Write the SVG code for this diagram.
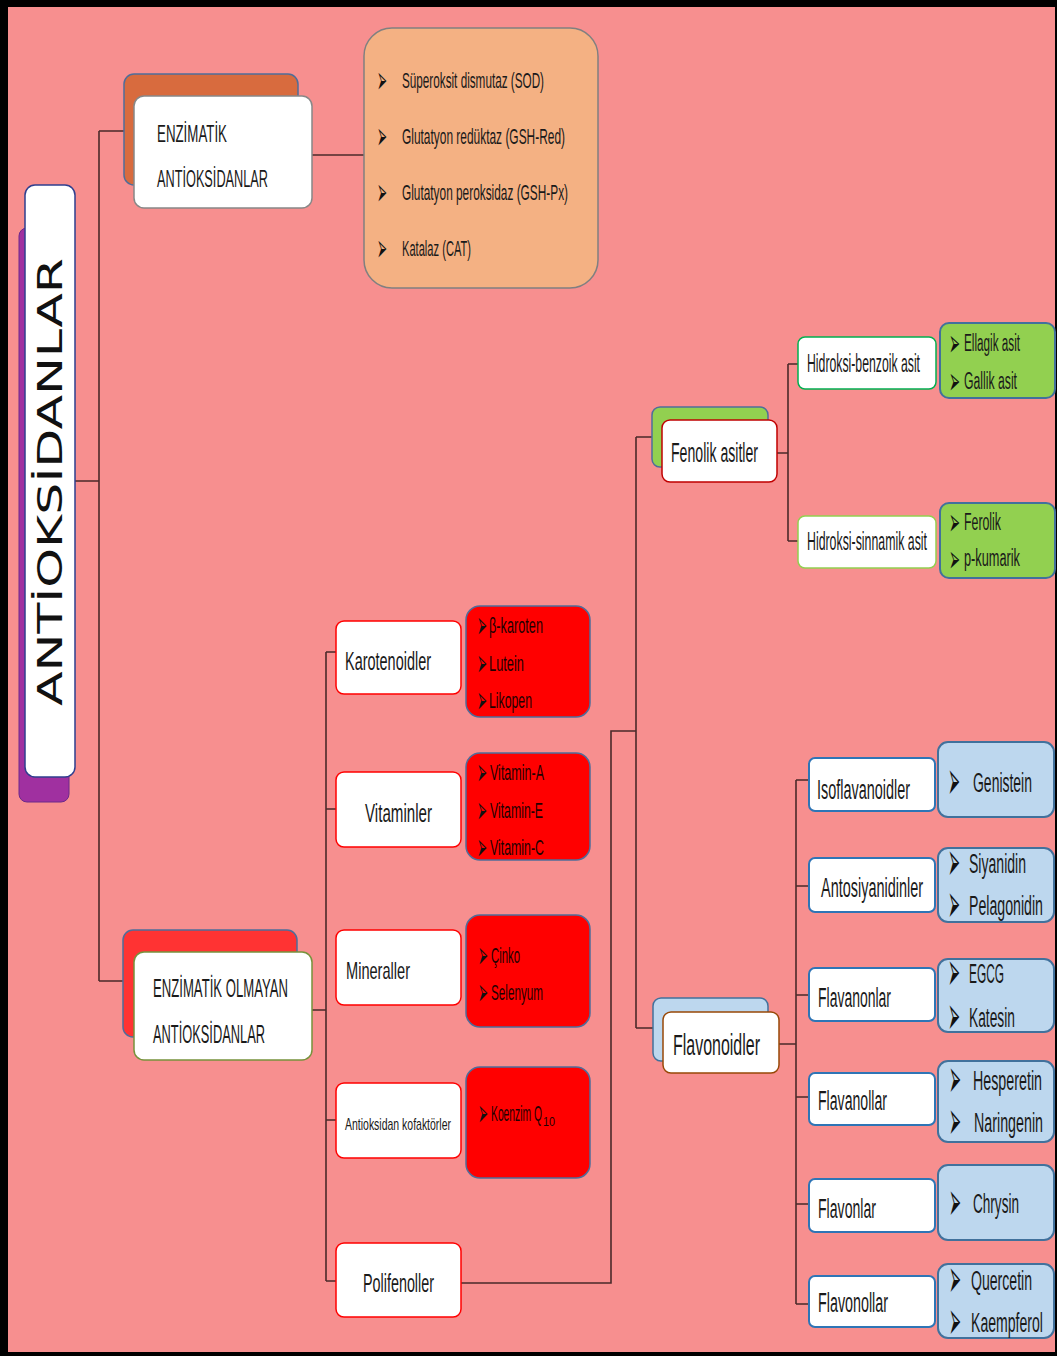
<svg xmlns="http://www.w3.org/2000/svg" width="1057" height="1356" viewBox="0 0 1057 1356">
<style>
.t{font-family:"Liberation Sans",Arial,sans-serif;fill:#1a1a1a}
.r{font-family:"Liberation Sans",Arial,sans-serif;fill:#1f0000}
.b{font-family:"DejaVu Sans",sans-serif;fill:#111}
.bs{font-family:"DejaVu Sans",sans-serif;fill:#111;font-size:38px}
.bl{font-family:"DejaVu Sans",sans-serif;fill:#111;font-size:54px}
.con{fill:none;stroke:#4a2a2a;stroke-width:1.6}
.redbox{fill:#FF0000;stroke:#4F6D9A;stroke-width:1.5}
.leftbox{fill:#fff;stroke:#FF0000;stroke-width:1.5}
.fbox{fill:#fff;stroke:#2E75B6;stroke-width:2}
.bluebox{fill:#BDD7EE;stroke:#41719C;stroke-width:2}
.greenbox{fill:#92D050;stroke:#41719C;stroke-width:2}
</style>
<rect x="0" y="0" width="1057" height="1356" fill="#000"/>
<rect x="8" y="7" width="1047" height="1345" fill="#F78F8F"/>

<g id="connectors">
<path class="con" d="M75 481H99M99 131V981M99 131H124M99 981H123"/>
<path class="con" d="M312 155H364"/>
<path class="con" d="M312 1010H326M326 652V1281M326 652H336M326 809H336M326 1120H336M326 1281H336"/>
<path class="con" d="M461 1283H611V731H636M636 437V1028M636 437H652M636 1028H653"/>
<path class="con" d="M777 453H788M788 364V541M788 364H798M788 541H798"/>
<path class="con" d="M779 1044H796M796 780V1304M796 780H809M796 886H809M796 995H809M796 1097H809M796 1204H809M796 1304H809"/>
</g>

<g id="antioksidanlar">
<rect x="19" y="228" width="50" height="574" rx="8" fill="#A030A0" stroke="#6a2a8a"/>
<rect x="25" y="185" width="50" height="592" rx="10" fill="#fff" stroke="#2F3F8F" stroke-width="1.5"/>
<text class="b" font-size="33" transform="translate(62,706) rotate(-90)" textLength="448" lengthAdjust="spacingAndGlyphs">ANTİOKSİDANLAR</text>
</g>

<g id="enzimatik">
<rect x="124" y="74" width="174" height="111" rx="10" fill="#D86B3E" stroke="#4F6D9A" stroke-width="1.5"/>
<rect x="134" y="96" width="178" height="112" rx="10" fill="#fff" stroke="#888" stroke-width="1.5"/>
<text class="t" x="157" y="142" font-size="24" textLength="70" lengthAdjust="spacingAndGlyphs">ENZİMATİK</text>
<text class="t" x="157" y="187" font-size="24" textLength="111" lengthAdjust="spacingAndGlyphs">ANTİOKSİDANLAR</text>
</g>

<g id="enzimler">
<rect x="364" y="28" width="234" height="260" rx="28" fill="#F4B183" stroke="#808080" stroke-width="1.5"/>
<text class="bs" x="377" y="93" textLength="10" lengthAdjust="spacingAndGlyphs">➢</text>
<text class="t" x="402" y="88" font-size="22" textLength="142" lengthAdjust="spacingAndGlyphs">Süperoksit dismutaz (SOD)</text>
<text class="bs" x="377" y="149" textLength="10" lengthAdjust="spacingAndGlyphs">➢</text>
<text class="t" x="402" y="144" font-size="22" textLength="163" lengthAdjust="spacingAndGlyphs">Glutatyon redüktaz (GSH-Red)</text>
<text class="bs" x="377" y="205" textLength="10" lengthAdjust="spacingAndGlyphs">➢</text>
<text class="t" x="402" y="200" font-size="22" textLength="166" lengthAdjust="spacingAndGlyphs">Glutatyon peroksidaz (GSH-Px)</text>
<text class="bs" x="377" y="261" textLength="10" lengthAdjust="spacingAndGlyphs">➢</text>
<text class="t" x="402" y="256" font-size="22" textLength="69" lengthAdjust="spacingAndGlyphs">Katalaz (CAT)</text>
</g>

<g id="enzimatik-olmayan">
<rect x="123" y="930" width="174" height="107" rx="10" fill="#FF3333" stroke="#4F6D9A" stroke-width="1.5"/>
<rect x="134" y="952" width="178" height="108" rx="10" fill="#fff" stroke="#77933C" stroke-width="1.5"/>
<text class="t" x="153" y="997" font-size="26" textLength="135" lengthAdjust="spacingAndGlyphs">ENZİMATİK OLMAYAN</text>
<text class="t" x="153" y="1043" font-size="26" textLength="112" lengthAdjust="spacingAndGlyphs">ANTİOKSİDANLAR</text>
</g>

<g id="karotenoidler">
<rect class="leftbox" x="336" y="621" width="125" height="73" rx="8"/>
<text class="t" x="345" y="670" font-size="26" textLength="86" lengthAdjust="spacingAndGlyphs">Karotenoidler</text>
</g>
<g id="karotenoidler-items">
<rect class="redbox" x="466" y="606" width="124" height="111" rx="14"/>
<text class="bs" x="477" y="638" textLength="10" lengthAdjust="spacingAndGlyphs">➢</text>
<text class="r" x="489" y="633" font-size="22" textLength="54" lengthAdjust="spacingAndGlyphs">β-karoten</text>
<text class="bs" x="477" y="676" textLength="10" lengthAdjust="spacingAndGlyphs">➢</text>
<text class="r" x="489" y="671" font-size="22" textLength="35" lengthAdjust="spacingAndGlyphs">Lutein</text>
<text class="bs" x="477" y="713" textLength="10" lengthAdjust="spacingAndGlyphs">➢</text>
<text class="r" x="489" y="708" font-size="22" textLength="43" lengthAdjust="spacingAndGlyphs">Likopen</text>
</g>

<g id="vitaminler">
<rect class="leftbox" x="336" y="772" width="125" height="75" rx="8"/>
<text class="t" x="365" y="822" font-size="26" textLength="67" lengthAdjust="spacingAndGlyphs">Vitaminler</text>
</g>
<g id="vitaminler-items">
<rect class="redbox" x="466" y="753" width="124" height="107" rx="14"/>
<text class="bs" x="477" y="785" textLength="10" lengthAdjust="spacingAndGlyphs">➢</text>
<text class="r" x="490" y="780" font-size="22" textLength="54" lengthAdjust="spacingAndGlyphs">Vitamin-A</text>
<text class="bs" x="477" y="823" textLength="10" lengthAdjust="spacingAndGlyphs">➢</text>
<text class="r" x="490" y="818" font-size="22" textLength="53" lengthAdjust="spacingAndGlyphs">Vitamin-E</text>
<text class="bs" x="477" y="860" textLength="10" lengthAdjust="spacingAndGlyphs">➢</text>
<text class="r" x="490" y="855" font-size="22" textLength="54" lengthAdjust="spacingAndGlyphs">Vitamin-C</text>
</g>

<g id="mineraller">
<rect class="leftbox" x="336" y="930" width="125" height="75" rx="8"/>
<text class="t" x="346" y="979" font-size="24" textLength="64" lengthAdjust="spacingAndGlyphs">Mineraller</text>
</g>
<g id="mineraller-items">
<rect class="redbox" x="466" y="915" width="124" height="112" rx="14"/>
<text class="bs" x="478" y="968" textLength="10" lengthAdjust="spacingAndGlyphs">➢</text>
<text class="r" x="491" y="963" font-size="22" textLength="29" lengthAdjust="spacingAndGlyphs">Çinko</text>
<text class="bs" x="478" y="1005" textLength="10" lengthAdjust="spacingAndGlyphs">➢</text>
<text class="r" x="491" y="1000" font-size="22" textLength="52" lengthAdjust="spacingAndGlyphs">Selenyum</text>
</g>

<g id="kofaktorler">
<rect class="leftbox" x="336" y="1083" width="125" height="75" rx="8"/>
<text class="t" x="345" y="1130" font-size="17" textLength="106" lengthAdjust="spacingAndGlyphs">Antioksidan kofaktörler</text>
</g>
<g id="kofaktorler-items">
<rect class="redbox" x="466" y="1067" width="124" height="111" rx="14"/>
<text class="bs" x="478" y="1126" textLength="10" lengthAdjust="spacingAndGlyphs">➢</text>
<text class="r" x="491" y="1121" font-size="22" textLength="51" lengthAdjust="spacingAndGlyphs">Koenzim Q</text>
<text class="r" x="543" y="1126" font-size="12" textLength="12" lengthAdjust="spacingAndGlyphs">10</text>
</g>

<g id="polifenoller">
<rect class="leftbox" x="336" y="1243" width="125" height="74" rx="8"/>
<text class="t" x="363" y="1292" font-size="26" textLength="71" lengthAdjust="spacingAndGlyphs">Polifenoller</text>
</g>

<g id="fenolik-asitler">
<rect x="652" y="407" width="116" height="60" rx="8" fill="#92D050" stroke="#4F6D9A" stroke-width="1.5"/>
<rect x="662" y="420" width="115" height="62" rx="8" fill="#fff" stroke="#C00000" stroke-width="1.5"/>
<text class="t" x="671" y="462" font-size="27" textLength="87" lengthAdjust="spacingAndGlyphs">Fenolik asitler</text>
</g>

<g id="hidroksi-benzoik">
<rect x="798" y="337" width="138" height="52" rx="7" fill="#fff" stroke="#00B050" stroke-width="1.5"/>
<text class="t" x="807" y="372" font-size="25" textLength="113" lengthAdjust="spacingAndGlyphs">Hidroksi-benzoik asit</text>
</g>
<g id="hidroksi-benzoik-items">
<rect class="greenbox" x="940" y="323" width="115" height="75" rx="9"/>
<text class="bs" x="949" y="356" textLength="11" lengthAdjust="spacingAndGlyphs">➢</text>
<text class="t" x="964" y="351" font-size="23" textLength="56" lengthAdjust="spacingAndGlyphs">Ellagik asit</text>
<text class="bs" x="949" y="394" textLength="11" lengthAdjust="spacingAndGlyphs">➢</text>
<text class="t" x="964" y="389" font-size="23" textLength="53" lengthAdjust="spacingAndGlyphs">Gallik asit</text>
</g>

<g id="hidroksi-sinnamik">
<rect x="798" y="516" width="138" height="52" rx="7" fill="#fff" stroke="#92D050" stroke-width="1.5"/>
<text class="t" x="807" y="550" font-size="25" textLength="120" lengthAdjust="spacingAndGlyphs">Hidroksi-sinnamik asit</text>
</g>
<g id="hidroksi-sinnamik-items">
<rect class="greenbox" x="940" y="503" width="115" height="75" rx="9"/>
<text class="bs" x="949" y="535" textLength="11" lengthAdjust="spacingAndGlyphs">➢</text>
<text class="t" x="964" y="530" font-size="23" textLength="37" lengthAdjust="spacingAndGlyphs">Ferolik</text>
<text class="bs" x="949" y="572" textLength="11" lengthAdjust="spacingAndGlyphs">➢</text>
<text class="t" x="964" y="566" font-size="23" textLength="56" lengthAdjust="spacingAndGlyphs">p-kumarik</text>
</g>

<g id="flavonoidler">
<rect x="653" y="998" width="115" height="63" rx="8" fill="#BDD7EE" stroke="#41719C" stroke-width="1.5"/>
<rect x="663" y="1012" width="116" height="61" rx="8" fill="#fff" stroke="#984807" stroke-width="1.5"/>
<text class="t" x="673" y="1055" font-size="30" textLength="87" lengthAdjust="spacingAndGlyphs">Flavonoidler</text>
</g>

<g id="isoflavanoidler">
<rect class="fbox" x="809" y="758" width="126" height="53" rx="6"/>
<text class="t" x="817" y="799" font-size="27" textLength="93" lengthAdjust="spacingAndGlyphs">Isoflavanoidler</text>
</g>
<g id="isoflavanoidler-items">
<rect class="bluebox" x="938" y="742" width="116" height="75" rx="10"/>
<text class="bl" x="948" y="799" textLength="12" lengthAdjust="spacingAndGlyphs">➢</text>
<text class="t" x="973" y="792" font-size="27" textLength="59" lengthAdjust="spacingAndGlyphs">Genistein</text>
</g>

<g id="antosiyanidinler">
<rect class="fbox" x="809" y="858" width="126" height="54" rx="6"/>
<text class="t" x="821" y="897" font-size="27" textLength="102" lengthAdjust="spacingAndGlyphs">Antosiyanidinler</text>
</g>
<g id="antosiyanidinler-items">
<rect class="bluebox" x="938" y="848" width="116" height="74" rx="10"/>
<text class="bl" x="948" y="880" textLength="12" lengthAdjust="spacingAndGlyphs">➢</text>
<text class="t" x="969" y="873" font-size="27" textLength="57" lengthAdjust="spacingAndGlyphs">Siyanidin</text>
<text class="bl" x="948" y="922" textLength="12" lengthAdjust="spacingAndGlyphs">➢</text>
<text class="t" x="969" y="915" font-size="27" textLength="74" lengthAdjust="spacingAndGlyphs">Pelagonidin</text>
</g>

<g id="flavanonlar">
<rect class="fbox" x="809" y="968" width="126" height="53" rx="6"/>
<text class="t" x="818" y="1007" font-size="27" textLength="73" lengthAdjust="spacingAndGlyphs">Flavanonlar</text>
</g>
<g id="flavanonlar-items">
<rect class="bluebox" x="938" y="959" width="116" height="73" rx="10"/>
<text class="bl" x="948" y="990" textLength="12" lengthAdjust="spacingAndGlyphs">➢</text>
<text class="t" x="969" y="983" font-size="27" textLength="35" lengthAdjust="spacingAndGlyphs">EGCG</text>
<text class="bl" x="948" y="1034" textLength="12" lengthAdjust="spacingAndGlyphs">➢</text>
<text class="t" x="969" y="1027" font-size="27" textLength="46" lengthAdjust="spacingAndGlyphs">Katesin</text>
</g>

<g id="flavanollar">
<rect class="fbox" x="809" y="1073" width="126" height="52" rx="6"/>
<text class="t" x="818" y="1110" font-size="27" textLength="69" lengthAdjust="spacingAndGlyphs">Flavanollar</text>
</g>
<g id="flavanollar-items">
<rect class="bluebox" x="938" y="1061" width="116" height="81" rx="10"/>
<text class="bl" x="949" y="1097" textLength="12" lengthAdjust="spacingAndGlyphs">➢</text>
<text class="t" x="973" y="1090" font-size="27" textLength="69" lengthAdjust="spacingAndGlyphs">Hesperetin</text>
<text class="bl" x="949" y="1139" textLength="12" lengthAdjust="spacingAndGlyphs">➢</text>
<text class="t" x="974" y="1132" font-size="27" textLength="69" lengthAdjust="spacingAndGlyphs">Naringenin</text>
</g>

<g id="flavonlar">
<rect class="fbox" x="809" y="1179" width="126" height="53" rx="6"/>
<text class="t" x="818" y="1218" font-size="27" textLength="58" lengthAdjust="spacingAndGlyphs">Flavonlar</text>
</g>
<g id="flavonlar-items">
<rect class="bluebox" x="938" y="1165" width="116" height="75" rx="10"/>
<text class="bl" x="949" y="1220" textLength="12" lengthAdjust="spacingAndGlyphs">➢</text>
<text class="t" x="973" y="1213" font-size="27" textLength="46" lengthAdjust="spacingAndGlyphs">Chrysin</text>
</g>

<g id="flavonollar">
<rect class="fbox" x="809" y="1276" width="126" height="51" rx="6"/>
<text class="t" x="818" y="1312" font-size="27" textLength="70" lengthAdjust="spacingAndGlyphs">Flavonollar</text>
</g>
<g id="flavonollar-items">
<rect class="bluebox" x="938" y="1264" width="116" height="74" rx="10"/>
<text class="bl" x="949" y="1297" textLength="12" lengthAdjust="spacingAndGlyphs">➢</text>
<text class="t" x="971" y="1290" font-size="27" textLength="61" lengthAdjust="spacingAndGlyphs">Quercetin</text>
<text class="bl" x="949" y="1339" textLength="12" lengthAdjust="spacingAndGlyphs">➢</text>
<text class="t" x="971" y="1332" font-size="27" textLength="72" lengthAdjust="spacingAndGlyphs">Kaempferol</text>
</g>
</svg>
